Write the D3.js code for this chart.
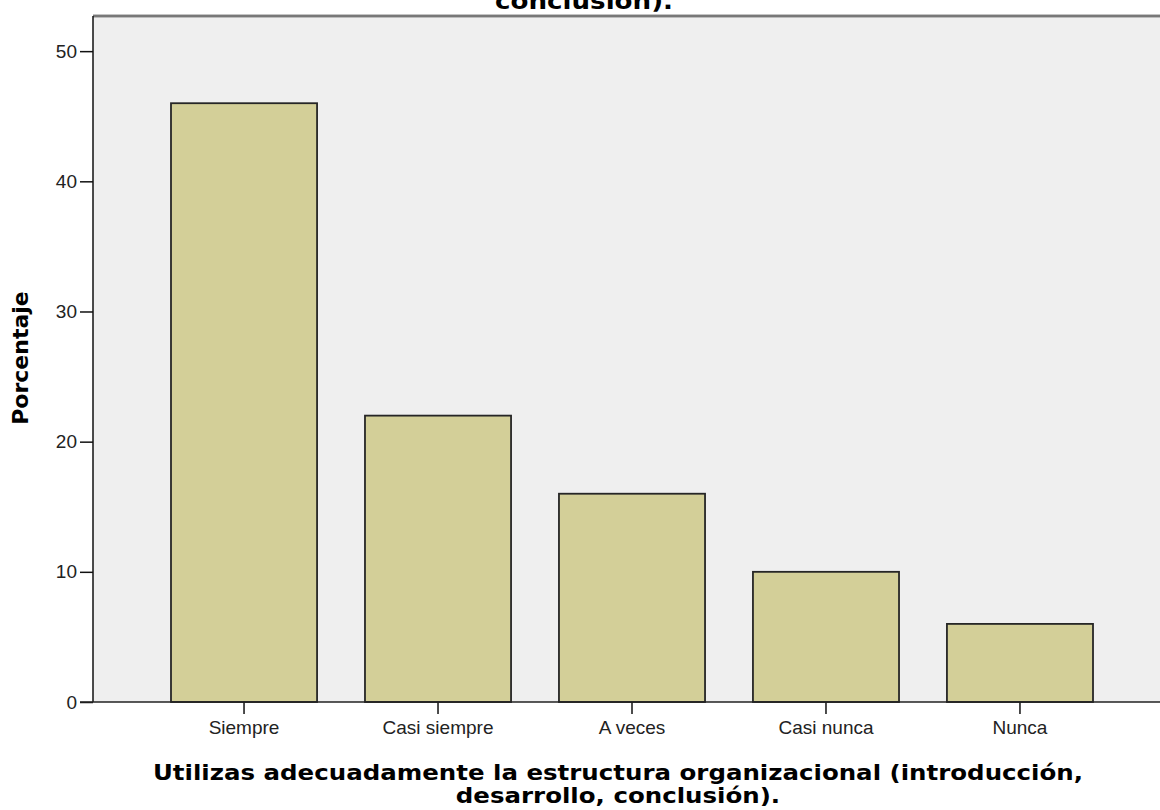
<!DOCTYPE html>
<html>
<head>
<meta charset="utf-8">
<script src="https://cdn.jsdelivr.net/npm/d3@7"></script>
<style>
  html, body { margin: 0; padding: 0; background: #ffffff; }
  svg { display: block; }
  text { font-family: "Liberation Sans", Arial, sans-serif; }
  .ttl { font-family: "DejaVu Sans", "Liberation Sans", sans-serif; font-weight: bold; }
</style>
</head>
<body>
<svg id="chart" width="1160" height="810"></svg>
<script>
const categories = ["Siempre", "Casi siempre", "A veces", "Casi nunca", "Nunca"];
const values = [46, 22, 16, 10, 6];
const yTicks = [0, 10, 20, 30, 40, 50];
const titleTail = "conclusión).";
const xTitleLines = ["Utilizas adecuadamente la estructura organizacional (introducción,", "desarrollo, conclusión)."];
const yTitle = "Porcentaje";

const svg = d3.select("#chart");
const plot = { left: 93, right: 1160, top: 16, bottom: 702 };

const y = d3.scaleLinear().domain([0, 52.7]).range([plot.bottom, plot.top]);
const x = d3.scaleBand().domain(categories).range([147, 1117]).paddingInner(0.247).paddingOuter(0.1237);

// background
svg.append("rect").attr("x", plot.left).attr("y", plot.top)
  .attr("width", plot.right - plot.left).attr("height", plot.bottom - plot.top)
  .attr("fill", "#efefef");

// top border
svg.append("line").attr("x1", plot.left).attr("x2", plot.right).attr("y1", plot.top).attr("y2", plot.top)
  .attr("stroke", "#8a8a8a").attr("stroke-width", 3);
svg.append("line").attr("x1", plot.left).attr("x2", plot.right).attr("y1", plot.top).attr("y2", plot.top)
  .attr("stroke", "#666").attr("stroke-width", 1);

// bars
svg.append("g").selectAll("rect").data(categories).join("rect")
  .attr("x", d => x(d))
  .attr("y", (d, i) => y(values[i]))
  .attr("width", x.bandwidth())
  .attr("height", (d, i) => y(0) - y(values[i]))
  .attr("fill", "#d3cf98")
  .attr("stroke", "#262626")
  .attr("stroke-width", 1.8);

// y axis
const yAxis = d3.axisLeft(y).tickValues(yTicks).tickSize(13).tickPadding(3).tickFormat(d3.format("d"));
const gy = svg.append("g").attr("transform", `translate(${plot.left},0)`).call(yAxis);
gy.select(".domain").remove();
gy.append("line").attr("x1", 0).attr("x2", 0).attr("y1", plot.top).attr("y2", plot.bottom)
  .attr("stroke", "#111").attr("stroke-width", 1.5);
gy.selectAll(".tick line").attr("stroke", "#111").attr("stroke-width", 1.5);
gy.selectAll(".tick text").attr("font-size", 19).attr("fill", "#222")
  .attr("font-family", "'Liberation Sans', Arial, sans-serif");

// x axis
const xAxis = d3.axisBottom(x).tickSize(12).tickPadding(7);
const gx = svg.append("g").attr("transform", `translate(0,${plot.bottom})`).call(xAxis);
gx.select(".domain").remove();
gx.append("line").attr("x1", plot.left - 13).attr("x2", plot.right).attr("y1", 0).attr("y2", 0)
  .attr("stroke", "#222").attr("stroke-width", 1.6);
gx.selectAll(".tick line").attr("stroke", "#111").attr("stroke-width", 1.5);
gx.selectAll(".tick text").attr("font-size", 19).attr("fill", "#222")
  .attr("font-family", "'Liberation Sans', Arial, sans-serif");

// titles
const topTitle = svg.append("text").attr("class", "ttl").attr("x", 584).attr("y", 9).attr("text-anchor", "middle")
  .attr("font-size", 23).attr("fill", "#000").text(titleTail);

const xt = svg.append("g").attr("class", "xtitle");
const lines = xt.selectAll("text").data(xTitleLines).join("text")
  .attr("class", "ttl").attr("text-anchor", "middle").attr("font-size", 21).attr("fill", "#000")
  .attr("x", 618).attr("y", (d, i) => 780 + i * 23).text(d => d);
const natural0 = lines.nodes()[0].getComputedTextLength();
const k = 930 / natural0;
lines.each(function() {
  const w = this.getComputedTextLength();
  d3.select(this).attr("textLength", w * k).attr("lengthAdjust", "spacingAndGlyphs");
});
const tw = topTitle.node().getComputedTextLength();
topTitle.attr("textLength", Math.min(tw * k, 178)).attr("lengthAdjust", "spacingAndGlyphs");

svg.append("text").attr("class", "ttl").attr("transform", `translate(28,358) rotate(-90)`).attr("text-anchor", "middle")
  .attr("font-size", 22).attr("fill", "#000").text(yTitle);
</script>
</body>
</html>
